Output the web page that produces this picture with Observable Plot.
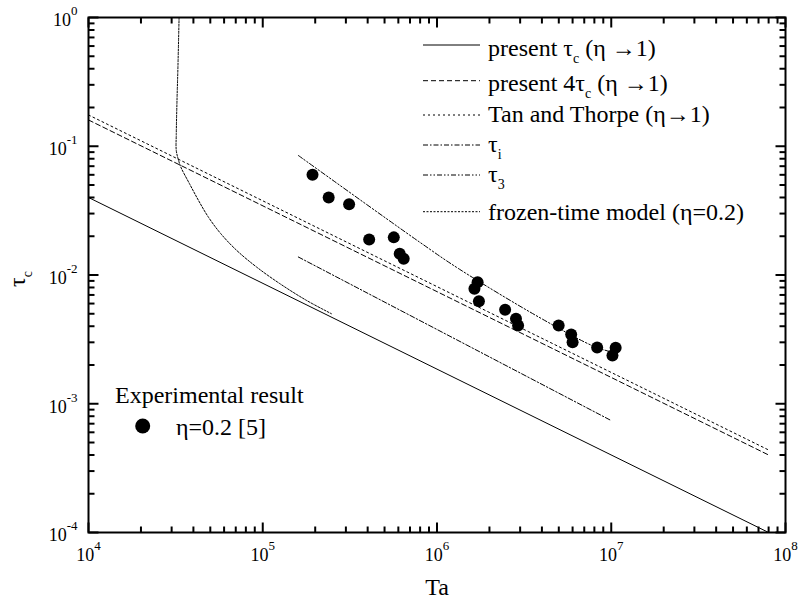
<!DOCTYPE html>
<html><head><meta charset="utf-8">
<script src="https://cdn.jsdelivr.net/npm/d3@7"></script>
<script src="https://cdn.jsdelivr.net/npm/@observablehq/plot@0.6"></script>
<style>
body{margin:0;background:#fff;}
svg{font-family:"Liberation Serif","Times New Roman",serif;}
</style>
</head><body><div id="chart"></div>
<script>
// ---- data ----
const taModel = [1e4, 8e7];
const tauC = [0.04, 1e-4];            // present τc (η→1)
const tau4C = [0.16, 4e-4];           // present 4τc (η→1)
const tauTanThorpe = [0.175, 4.375e-4];

const taTauI = [1.6e5, 1.0e7];
const tauI = [0.0138, 7.4e-4];

const taTau3 = [1.6e5, 7.95e5, 1.347e6, 4.04e6, 8.16e6, 1.04e7];
const tau3 = [0.0848, 0.0180, 0.01108, 0.00453, 0.00275, 0.0025];

const taFrozen = [3.31e4, 3.26e4, 3.22e4, 3.19e4, 3.19e4, 3.29e4, 3.39e4, 3.80e4, 4.28e4, 4.88e4, 5.75e4, 7.10e4, 9.24e4, 1.256e5, 1.786e5, 2.48e5];
const tauFrozen = [1.0, 0.411, 0.2266, 0.1249, 0.0927, 0.0775, 0.0687, 0.0511, 0.0379, 0.0281, 0.0209, 0.01549, 0.0115, 0.00855, 0.00634, 0.0050];

const taExp = [1.93e5, 2.39e5, 3.13e5, 4.08e5, 5.65e5, 6.11e5, 6.44e5, 1.64e6, 1.71e6, 1.74e6, 2.46e6, 2.84e6, 2.92e6, 4.99e6, 5.89e6, 6.0e6, 8.3e6, 1.016e7, 1.06e7];
const tauExp = [0.060, 0.040, 0.0355, 0.0189, 0.0196, 0.0146, 0.01336, 0.00781, 0.00879, 0.00626, 0.00537, 0.00457, 0.00405, 0.00405, 0.00345, 0.00301, 0.00273, 0.00237, 0.00272];

const xMajor = [1e4, 1e5, 1e6, 1e7, 1e8];
const yMajor = [1e-4, 1e-3, 1e-2, 1e-1, 1];
const xTickLabels = ["10^{4}", "10^{5}", "10^{6}", "10^{7}", "10^{8}"];
const yTickLabels = ["10^{-4}", "10^{-3}", "10^{-2}", "10^{-1}", "10^{0}"];

const legendLabels = [
  "present τ_{c} (η →1)",
  "present 4τ_{c} (η →1)",
  "Tan and Thorpe (η→1)",
  "τ_{i}",
  "τ_{3}",
  "frozen-time model (η=0.2)"
];
const legendDash = [null, "5,3", "2,3", "5,2,1.5,2", "5,2,1.5,2,1.5,2", "2,1.5"];
const expTitle = "Experimental result";
const expLabel = "η=0.2 [5]";
const xTitle = "Ta";
const yTitle = "τ_{c}";

// ---- helpers ----
const rows = (xs, ys) => xs.map((x, i) => ({x, y: ys[i]}));
const minorOf = (majors) => majors.slice(0, -1).flatMap(m => [2,3,4,5,6,7,8,9].map(k => k * m));
const xMinor = minorOf(xMajor);
const yMinor = minorOf(yMajor);
const xLab = new Map(xMajor.map((v, i) => [v, xTickLabels[i]]));
const yLab = new Map(yMajor.map((v, i) => [v, yTickLabels[i]]));

function richText(sel, str, supShift, subShift, smallSize) {
  sel.text(null);
  const parts = str.split(/([_^]\{[^}]*\})/).filter(p => p !== "");
  let shift = 0;
  parts.forEach(p => {
    const m = p.match(/^([_^])\{([^}]*)\}$/);
    if (m) {
      const d = m[1] === "^" ? -supShift : subShift;
      sel.append("tspan").attr("dy", d - shift).attr("font-size", smallSize).text(m[2]);
      shift = d;
    } else {
      const t = sel.append("tspan").text(p);
      if (shift) t.attr("dy", -shift);
      shift = 0;
    }
  });
}

const legendMark = () => {
  const g = d3.create("svg:g").attr("fill", "black").attr("text-anchor", "start");
  const lineY = [45, 80.7, 115, 145, 175, 211.7];
  const baseY = [56, 91, 121.5, 151.5, 181.5, 220];
  legendLabels.forEach((lab, i) => {
    const ln = g.append("line").attr("x1", 423).attr("x2", 480)
      .attr("y1", lineY[i]).attr("y2", lineY[i]).attr("stroke", "black").attr("stroke-width", 1);
    if (legendDash[i]) ln.attr("stroke-dasharray", legendDash[i]);
    const t = g.append("text").attr("x", 488).attr("y", baseY[i]).attr("font-size", 24);
    richText(t, lab, 10, 7, 14);
  });
  g.append("text").attr("x", 115).attr("y", 403).attr("font-size", 24).text(expTitle);
  g.append("circle").attr("cx", 142.7).attr("cy", 426).attr("r", 7.5).attr("fill", "black");
  g.append("text").attr("x", 176).attr("y", 435).attr("font-size", 24).text(expLabel);
  return g.node();
};

// tick stubs as links in data space: from the frame edge inward by a fraction of a decade
const decX = 4, decY = 4; // decades spanned by each axis
const frameW = 800 - 88 - 15, frameH = 608 - 17 - 76;
const fx = (len) => Math.pow(10, len * decX / frameW); // multiplicative step for len px along x
const fy = (len) => Math.pow(10, len * decY / frameH);
const xTickLinks = (vals, len) => vals.flatMap(v => [
  {x1: v, x2: v, y1: 1e-4, y2: 1e-4 * fy(len)},
  {x1: v, x2: v, y1: 1, y2: 1 / fy(len)}
]);
const yTickLinks = (vals, len) => vals.flatMap(v => [
  {y1: v, y2: v, x1: 1e4, x2: 1e4 * fx(len)},
  {y1: v, y2: v, x1: 1e8, x2: 1e8 / fx(len)}
]);
const tickLinks = [
  ...xTickLinks(xMajor, 10), ...xTickLinks(xMinor, 6),
  ...yTickLinks(yMajor, 10), ...yTickLinks(yMinor, 6)
];

const plot = Plot.plot({
  width: 800, height: 608,
  marginLeft: 88, marginRight: 15, marginTop: 17, marginBottom: 76,
  x: {type: "log", domain: [1e4, 1e8]},
  y: {type: "log", domain: [1e-4, 1]},
  style: {background: "white", color: "black", fontFamily: "Liberation Serif, serif"},
  marks: [
    Plot.link(tickLinks, {x1: "x1", y1: "y1", x2: "x2", y2: "y2", stroke: "black", strokeWidth: 2}),
    // tick labels
    Plot.axisX(xMajor, {anchor: "bottom", tickSize: 0, tickPadding: 16, fontSize: 18, tickFormat: d => xLab.get(d), label: null}),
    Plot.axisY(yMajor, {anchor: "left", tickSize: 0, tickPadding: 11, fontSize: 18, dy: 3, tickFormat: d => yLab.get(d), label: null}),
    // axis titles
    Plot.text([xTitle], {frameAnchor: "bottom", dy: 62, fontSize: 24, text: d => d}),
    Plot.text([yTitle], {frameAnchor: "left", dx: -71, dy: 12, rotate: -90, fontSize: 24, text: d => d}),
    // model curves
    Plot.line(rows(taModel, tauC), {x: "x", y: "y", stroke: "black", strokeWidth: 1}),
    Plot.line(rows(taModel, tau4C), {x: "x", y: "y", stroke: "black", strokeWidth: 1, strokeDasharray: legendDash[1]}),
    Plot.line(rows(taModel, tauTanThorpe), {x: "x", y: "y", stroke: "black", strokeWidth: 1, strokeDasharray: legendDash[2]}),
    Plot.line(rows(taTauI, tauI), {x: "x", y: "y", stroke: "black", strokeWidth: 1, strokeDasharray: legendDash[3]}),
    Plot.line(rows(taTau3, tau3), {x: "x", y: "y", stroke: "black", strokeWidth: 1, strokeDasharray: legendDash[4], curve: "catmull-rom"}),
    Plot.line(rows(taFrozen, tauFrozen), {x: "x", y: "y", stroke: "black", strokeWidth: 1, strokeDasharray: legendDash[5], curve: "catmull-rom"}),
    // experiment
    Plot.dot(rows(taExp, tauExp), {x: "x", y: "y", r: 6, fill: "black", stroke: "none"}),
    Plot.frame({stroke: "black", strokeWidth: 2}),
    legendMark
  ]
});

// rich text (superscripts / subscripts)
d3.select(plot).selectAll('g[aria-label="x-axis tick label"] text, g[aria-label="y-axis tick label"] text').each(function() {
  const s = this.textContent;
  richText(d3.select(this), s, 11, 7, 13);
});
d3.select(plot).selectAll('g[aria-label="text"] text').each(function() {
  const s = this.textContent;
  if (/[_^]\{/.test(s)) richText(d3.select(this), s, 11, 7, 14);
});

document.getElementById("chart").appendChild(plot);
</script>
</body></html>
